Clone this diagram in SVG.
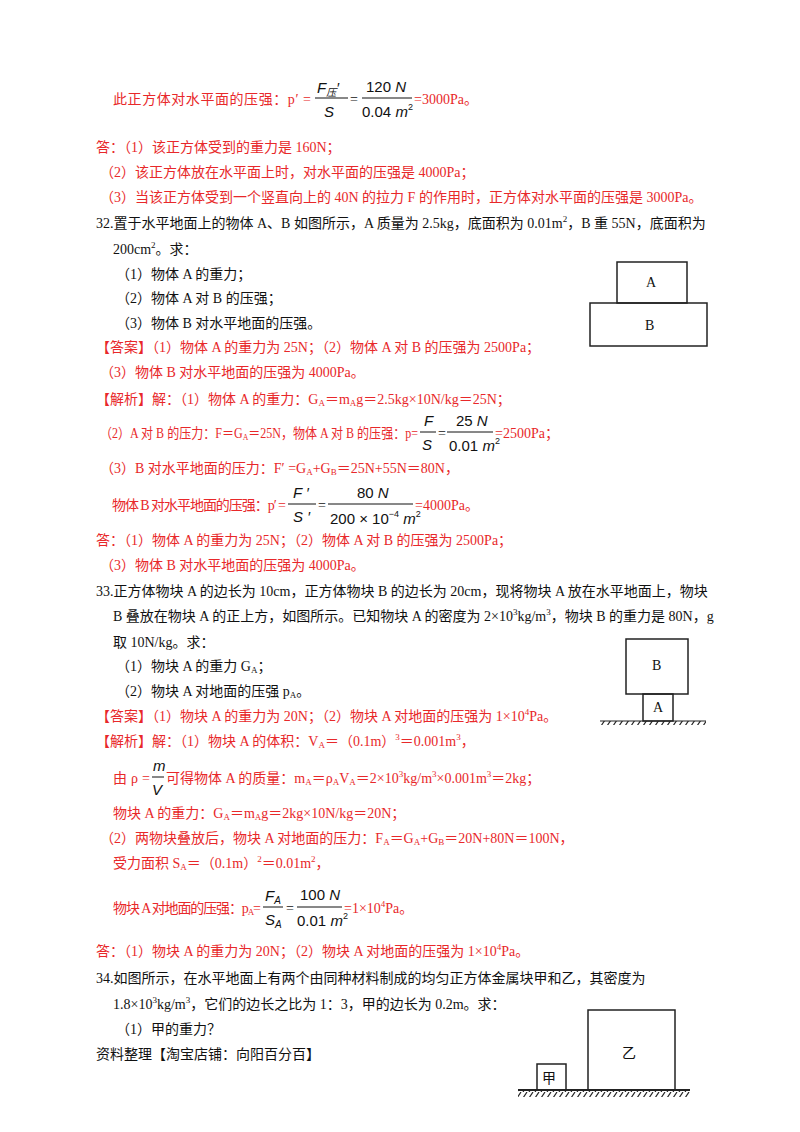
<svg xmlns="http://www.w3.org/2000/svg" width="800" height="1132" viewBox="0 0 800 1132">
<defs>
<style>
text{font-family:"Liberation Serif","Noto Sans CJK SC",serif;font-size:14px}
.r{fill:#e8282a}
.k{fill:#111}
.m{font-family:"Liberation Sans","Noto Sans CJK SC",sans-serif;font-style:italic;fill:#111;font-size:15px}
.mn{font-family:"Liberation Sans",sans-serif;fill:#111;font-size:15px}
.fl{stroke:#111;stroke-width:1}
.box{fill:none;stroke:#222;stroke-width:1.5}
.s{font-size:9px}
</style>
<pattern id="h" width="6" height="6" patternUnits="userSpaceOnUse"><path d="M5 0 L1 6" stroke="#222" stroke-width="1.2"/></pattern>
</defs>
<rect width="800" height="1132" fill="#fff"/>

<g id="top">
<text x="113" y="104" class="r" textLength="198" lengthAdjust="spacing">此正方体对水平面的压强：p′ =</text>
<text x="317" y="93" class="m">F<tspan font-size="10" dy="3">压</tspan><tspan dy="-3">′</tspan></text>
<line x1="315" y1="98" x2="348" y2="98" class="fl"/>
<text x="324" y="117" class="m">S</text>
<text x="350" y="104" class="k">=</text>
<line x1="362" y1="98" x2="412" y2="98" class="fl"/>
<text x="366" y="92" class="mn">120 <tspan font-style="italic">N</tspan></text>
<text x="362" y="117" class="mn">0.04 <tspan font-style="italic">m</tspan><tspan font-size="9" dy="-7">2</tspan></text>
<text x="414" y="104" class="r">=3000Pa。</text>
<text x="96" y="152" class="r">答：（1）该正方体受到的重力是 160N；</text>
<text x="100" y="177" class="r">（2）该正方体放在水平面上时，对水平面的压强是 4000Pa；</text>
<text x="100" y="202" class="r">（3）当该正方体受到一个竖直向上的 40N 的拉力 F 的作用时，正方体对水平面的压强是 3000Pa。</text>
</g>

<g id="q32">
<text x="96" y="228" class="k">32.置于水平地面上的物体 A、B 如图所示，A 质量为 2.5kg，底面积为 0.01m<tspan class="s" dy="-6">2</tspan><tspan dy="6">，B 重 55N，底面积为</tspan></text>
<text x="113" y="254" class="k">200cm<tspan class="s" dy="-6">2</tspan><tspan dy="6">。求：</tspan></text>
<text x="116" y="279" class="k">（1）物体 A 的重力；</text>
<text x="116" y="303" class="k">（2）物体 A 对 B 的压强；</text>
<text x="116" y="328" class="k">（3）物体 B 对水平地面的压强。</text>
<text x="96" y="352" class="r">【答案】（1）物体 A 的重力为 25N；（2）物体 A 对 B 的压强为 2500Pa；</text>
<text x="100" y="377" class="r">（3）物体 B 对水平地面的压强为 4000Pa。</text>
<text x="96" y="404" class="r">【解析】解：（1）物体 A 的重力：G<tspan class="s" dy="2">A</tspan><tspan dy="-2">＝m</tspan><tspan class="s" dy="2">A</tspan><tspan dy="-2">g＝2.5kg×10N/kg＝25N；</tspan></text>
<text x="100" y="438" class="r" textLength="318" lengthAdjust="spacingAndGlyphs">（2）A 对 B 的压力：F＝G<tspan class="s" dy="2">A</tspan><tspan dy="-2">＝25N，物体 A 对 B 的压强：p=</tspan></text>
<text x="424" y="426" class="m">F</text>
<line x1="420" y1="432" x2="436" y2="432" class="fl"/>
<text x="422" y="450" class="m">S</text>
<text x="438" y="438" class="k">=</text>
<line x1="447" y1="432" x2="493" y2="432" class="fl"/>
<text x="456" y="426" class="mn">25 <tspan font-style="italic">N</tspan></text>
<text x="449" y="451" class="mn">0.01 <tspan font-style="italic">m</tspan><tspan font-size="9" dy="-7">2</tspan></text>
<text x="495" y="438" class="r">=2500Pa；</text>
<text x="100" y="473" class="r">（3）B 对水平地面的压力：F′ =G<tspan class="s" dy="2">A</tspan><tspan dy="-2">+G</tspan><tspan class="s" dy="2">B</tspan><tspan dy="-2">＝25N+55N＝80N，</tspan></text>
<text x="112" y="510" class="r" textLength="174" lengthAdjust="spacing">物体 B 对水平地面的压强：p′ =</text>
<text x="293" y="498" class="m">F ′</text>
<line x1="288" y1="504" x2="316" y2="504" class="fl"/>
<text x="293" y="522" class="m">S ′</text>
<text x="318" y="510" class="k">=</text>
<line x1="328" y1="504" x2="413" y2="504" class="fl"/>
<text x="357" y="498" class="mn">80 <tspan font-style="italic">N</tspan></text>
<text x="330" y="524" class="mn">200 × 10<tspan font-size="9" dy="-7">−4</tspan><tspan dy="7" font-style="italic"> m</tspan><tspan font-size="9" dy="-7">2</tspan></text>
<text x="415" y="510" class="r">=4000Pa。</text>
<text x="96" y="545" class="r">答：（1）物体 A 的重力为 25N；（2）物体 A 对 B 的压强为 2500Pa；</text>
<text x="100" y="570" class="r">（3）物体 B 对水平地面的压强为 4000Pa。</text>
</g>

<g id="fig32">
<rect x="617" y="262" width="70" height="41" class="box" stroke-width="1"/>
<rect x="590" y="303" width="117" height="43" class="box" stroke-width="1"/>
<text x="646" y="287" class="k" font-size="12">A</text>
<text x="645" y="330" class="k" font-size="12">B</text>
</g>

<g id="q33">
<text x="96" y="596" class="k">33.正方体物块 A 的边长为 10cm，正方体物块 B 的边长为 20cm，现将物块 A 放在水平地面上，物块</text>
<text x="113" y="621" class="k">B 叠放在物块 A 的正上方，如图所示。已知物块 A 的密度为 2×10<tspan class="s" dy="-6">3</tspan><tspan dy="6">kg/m</tspan><tspan class="s" dy="-6">3</tspan><tspan dy="6">，物块 B 的重力是 80N，g</tspan></text>
<text x="113" y="647" class="k">取 10N/kg。求：</text>
<text x="116" y="671" class="k">（1）物块 A 的重力 G<tspan class="s" dy="2">A</tspan><tspan dy="-2">；</tspan></text>
<text x="116" y="696" class="k">（2）物块 A 对地面的压强 p<tspan class="s" dy="2">A</tspan><tspan dy="-2">。</tspan></text>
<text x="96" y="721" class="r">【答案】（1）物块 A 的重力为 20N；（2）物块 A 对地面的压强为 1×10<tspan class="s" dy="-6">4</tspan><tspan dy="6">Pa。</tspan></text>
<text x="96" y="746" class="r">【解析】解：（1）物块 A 的体积：V<tspan class="s" dy="2">A</tspan><tspan dy="-2">＝（0.1m）</tspan><tspan class="s" dy="-6">3</tspan><tspan dy="6">＝0.001m</tspan><tspan class="s" dy="-6">3</tspan><tspan dy="6">，</tspan></text>
<text x="113" y="783" class="r" textLength="37" lengthAdjust="spacing">由 ρ =</text>
<text x="153" y="771" class="m">m</text>
<line x1="152" y1="777" x2="164" y2="777" class="fl"/>
<text x="152" y="795" class="m">V</text>
<text x="166" y="783" class="r">可得物体 A 的质量：m<tspan class="s" dy="2">A</tspan><tspan dy="-2">＝ρ</tspan><tspan class="s" dy="2">A</tspan><tspan dy="-2">V</tspan><tspan class="s" dy="2">A</tspan><tspan dy="-2">＝2×10</tspan><tspan class="s" dy="-6">3</tspan><tspan dy="6">kg/m</tspan><tspan class="s" dy="-6">3</tspan><tspan dy="6">×0.001m</tspan><tspan class="s" dy="-6">3</tspan><tspan dy="6">＝2kg；</tspan></text>
<text x="113" y="818" class="r">物块 A 的重力：G<tspan class="s" dy="2">A</tspan><tspan dy="-2">＝m</tspan><tspan class="s" dy="2">A</tspan><tspan dy="-2">g＝2kg×10N/kg＝20N；</tspan></text>
<text x="100" y="843" class="r">（2）两物块叠放后，物块 A 对地面的压力：F<tspan class="s" dy="2">A</tspan><tspan dy="-2">＝G</tspan><tspan class="s" dy="2">A</tspan><tspan dy="-2">+G</tspan><tspan class="s" dy="2">B</tspan><tspan dy="-2">＝20N+80N＝100N，</tspan></text>
<text x="113" y="868" class="r">受力面积 S<tspan class="s" dy="2">A</tspan><tspan dy="-2">＝（0.1m）</tspan><tspan class="s" dy="-6">2</tspan><tspan dy="6">＝0.01m</tspan><tspan class="s" dy="-6">2</tspan><tspan dy="6">，</tspan></text>
<text x="113" y="913" class="r" textLength="148" lengthAdjust="spacing">物块 A 对地面的压强：p<tspan class="s" dy="2">A</tspan><tspan dy="-2">=</tspan></text>
<text x="265" y="901" class="m">F<tspan font-size="10" dy="3">A</tspan></text>
<line x1="263" y1="907" x2="283" y2="907" class="fl"/>
<text x="265" y="925" class="m">S<tspan font-size="10" dy="3">A</tspan></text>
<text x="286" y="913" class="k">=</text>
<line x1="297" y1="907" x2="342" y2="907" class="fl"/>
<text x="300" y="900" class="mn">100 <tspan font-style="italic">N</tspan></text>
<text x="297" y="926" class="mn">0.01 <tspan font-style="italic">m</tspan><tspan font-size="9" dy="-7">2</tspan></text>
<text x="344" y="913" class="r">=1×10<tspan class="s" dy="-6">4</tspan><tspan dy="6">Pa。</tspan></text>
<text x="96" y="956" class="r">答：（1）物块 A 的重力为 20N；（2）物块 A 对地面的压强为 1×10<tspan class="s" dy="-6">4</tspan><tspan dy="6">Pa。</tspan></text>
</g>

<g id="fig33">
<rect x="626" y="639" width="62" height="55" class="box" stroke-width="1"/>
<rect x="643" y="694" width="30" height="27" class="box" stroke-width="1"/>
<text x="652" y="670" class="k" font-size="12">B</text>
<text x="653" y="712" class="k" font-size="12">A</text>
<line x1="600" y1="721" x2="706" y2="721" stroke="#222" stroke-width="1"/>
<rect x="600" y="721" width="106" height="4" fill="url(#h)"/>
</g>

<g id="q34">
<text x="96" y="983" class="k">34.如图所示，在水平地面上有两个由同种材料制成的均匀正方体金属块甲和乙，其密度为</text>
<text x="113" y="1009" class="k">1.8×10<tspan class="s" dy="-6">3</tspan><tspan dy="6">kg/m</tspan><tspan class="s" dy="-6">3</tspan><tspan dy="6">，它们的边长之比为 1：3，甲的边长为 0.2m。求：</tspan></text>
<text x="116" y="1034" class="k">（1）甲的重力？</text>
<text x="96" y="1059" class="k">资料整理【淘宝店铺：向阳百分百】</text>
</g>

<g id="fig34">
<rect x="537" y="1064" width="29" height="26" class="box"/>
<rect x="588" y="1010" width="87" height="80" class="box"/>
<text x="542" y="1083" class="k" font-size="13">甲</text>
<text x="622" y="1058" class="k" font-size="16">乙</text>
<line x1="518" y1="1090" x2="690" y2="1090" stroke="#222" stroke-width="2"/>
<rect x="518" y="1091" width="172" height="6" fill="url(#h)"/>
</g>
</svg>
